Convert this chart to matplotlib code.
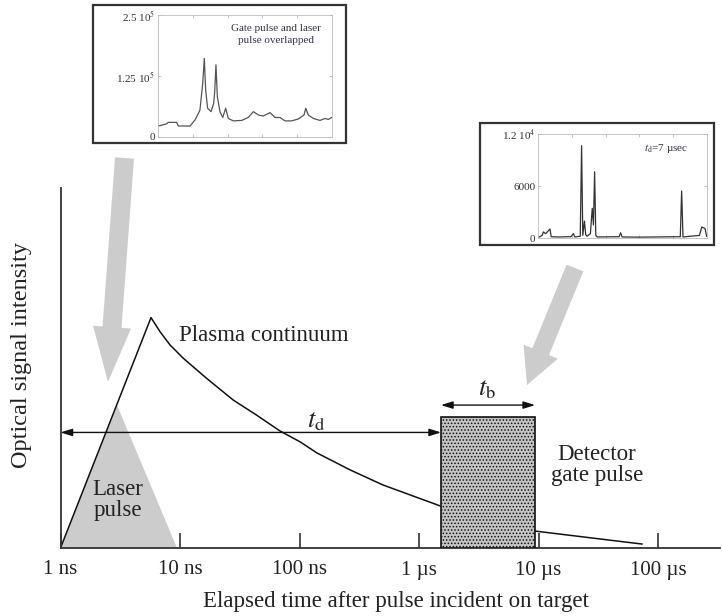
import matplotlib
matplotlib.use('Agg')
import matplotlib.pyplot as plt
from matplotlib.patches import Rectangle, Polygon, FancyArrow

plt.rcParams['font.family'] = ['Liberation Serif', 'DejaVu Serif']
plt.rcParams['mathtext.fontset'] = 'stix'
plt.rcParams['hatch.linewidth'] = 0.7

# ---- data (time in ns, intensity in arbitrary units 0..1) ----
plasma_t = [1, 5.72, 6.80, 8.25, 10.66, 16.73, 27.9, 43.8, 68.7, 101, 140, 265, 500, 1500, 9360, 73400]
plasma_i = [0, 0.640, 0.601, 0.564, 0.527, 0.471, 0.411, 0.369, 0.325, 0.295, 0.264, 0.217, 0.175, 0.117, 0.047, 0.011]

laser_t = [1, 2.97, 9.44]
laser_i = [0, 0.397, 0]

gate_start, gate_end, gate_height = 1528, 9360, 0.364

tick_pos = [1, 10, 100, 1e3, 1e4, 1e5]
tick_lbl = ['1 ns', '10 ns', '100 ns', '1 \u00b5s', '10 \u00b5s', '100 \u00b5s']

# inset 1: gate pulse and laser pulse overlapped
spec1_x = [0.2, 5.0, 5.9, 10.7, 11.7, 18.4, 21.3, 24.1, 25.7, 26.6, 27.4, 28.5, 30.5, 32.0, 32.6, 33.3,
           34.1, 35.6, 37.2, 38.9, 40.4, 43.3, 48.1, 51.9, 54.8, 57.7, 60.5, 64.4, 67.2, 70.1, 73.0,
           76.8, 80.7, 83.9, 84.9, 86.4, 89.3, 93.1, 96.0, 97.9, 99.8]
spec1_y = [0.225, 0.27, 0.30, 0.30, 0.225, 0.225, 0.35, 0.55, 1.10, 1.61, 0.96, 0.59, 0.52, 0.69, 0.93, 1.48,
           0.83, 0.52, 0.40, 0.59, 0.38, 0.33, 0.34, 0.40, 0.52, 0.45, 0.43, 0.50, 0.40, 0.40, 0.33,
           0.33, 0.37, 0.45, 0.59, 0.45, 0.38, 0.34, 0.38, 0.36, 0.40]
spec1_y = [v * 1e5 for v in spec1_y]

# inset 2: td = 7 usec
spec2_x = [0.5, 2.5, 3.2, 4.5, 6.0, 7.1, 7.8, 12, 19.5, 20.9, 21.8, 25.0, 25.8, 26.5, 27.5, 28.2, 29.0,
           31.0, 32.1, 32.8, 33.5, 34.2, 35, 48.0, 48.9, 49.8, 60, 84.2, 85.0, 85.8, 95.5, 96.9, 98.8, 99.8]
spec2_y = [100, 300, 700, 500, 800, 1040, 150, 120, 150, 500, 120, 200, 10650, 300, 1960, 400, 200,
           500, 3430, 1500, 7650, 300, 120, 150, 600, 120, 100, 150, 5420, 120, 300, 1270, 1100, 200]

fig = plt.figure(figsize=(7.22, 6.16), dpi=100)
W, H = 722, 616

# ---- main axes ----
ax = fig.add_axes([60.5 / W, (H - 548) / H, 659.5 / W, 360 / H])
ax.set_xscale('log')
ax.set_xlim(1, 10 ** (659.5 / 119.5))
ax.set_ylim(0, 1)
ax.set_facecolor('none')
for s in ['top', 'right']:
    ax.spines[s].set_visible(False)
for s in ['left', 'bottom']:
    ax.spines[s].set_color('#333333')
    ax.spines[s].set_linewidth(1.3)
ax.set_yticks([])
ax.set_xticks(tick_pos)
ax.set_xticklabels(tick_lbl)
ax.xaxis.set_minor_locator(matplotlib.ticker.NullLocator())
ax.tick_params(axis='x', direction='in', length=11, width=1.2, color='#333333',
               labelsize=15, pad=9, labelcolor='#222222')

ax.add_patch(Polygon(list(zip(laser_t, laser_i)), closed=True, facecolor='#cccccc',
                     edgecolor='none', zorder=1))
ax.plot(plasma_t, plasma_i, color='#111111', lw=1.1, zorder=2)
ax.add_patch(Rectangle((gate_start, 0), gate_end - gate_start, gate_height,
                       facecolor='#c4c4c4', edgecolor='#111111', hatch='.....',
                       lw=1.2, zorder=3))

# td and tb arrows
ax.annotate('', xy=(gate_start, 0.321), xytext=(1, 0.321),
            arrowprops=dict(arrowstyle='<|-|>,head_length=0.7,head_width=0.22',
                            color='#111111', lw=1.0, shrinkA=0, shrinkB=0))
ax.annotate('', xy=(gate_end, 0.397), xytext=(gate_start, 0.397),
            arrowprops=dict(arrowstyle='<|-|>,head_length=0.7,head_width=0.22',
                            color='#111111', lw=1.0, shrinkA=0, shrinkB=0))
ax.text(137, 0.35, r'$t_\mathrm{d}$', fontsize=19, ha='center', va='center', color='#222222')
ax.text(3706, 0.439, r'$t_\mathrm{b}$', fontsize=19, ha='center', va='center', color='#222222')

ax.text(9.81, 0.589, 'Plasma continuum', fontsize=16.5, ha='left', va='center', color='#222222')
ax.text(3.03, 0.133, 'Laser\npulse', fontsize=16.5, ha='center', va='center',
        color='#222222', linespacing=1.0, zorder=4)
ax.text(30900, 0.231, 'Detector\ngate pulse', fontsize=16.5, ha='center', va='center',
        color='#222222', linespacing=1.0)

fig.text(396 / W, 1 - 601 / H, 'Elapsed time after pulse incident on target',
         fontsize=16.5, ha='center', va='center', color='#222222')
fig.text(22 / W, 1 - 355 / H, 'Optical signal intensity', fontsize=17.5,
         rotation=90, ha='center', va='center', color='#222222')

# ---- overlay in pixel coordinates: grey arrows and inset frames ----
ov = fig.add_axes([0, 0, 1, 1])
ov.set_xlim(0, W)
ov.set_ylim(H, 0)
ov.axis('off')
ov.set_facecolor('none')

ov.add_patch(FancyArrow(124.5, 158, 108 - 124.5, 382 - 158, width=19, head_width=38,
                        head_length=55, length_includes_head=True,
                        facecolor='#cccccc', edgecolor='none'))
ov.add_patch(FancyArrow(575, 268, 527 - 575, 385 - 268, width=18, head_width=37,
                        head_length=36, length_includes_head=True,
                        facecolor='#cccccc', edgecolor='none'))

ov.add_patch(Rectangle((93, 5), 253, 138, facecolor='white', edgecolor='#333333', lw=1.6))
ov.add_patch(Rectangle((480, 123), 234, 122, facecolor='white', edgecolor='#333333', lw=1.6))

# ---- inset 1 ----
a1 = fig.add_axes([158 / W, (H - 137) / H, 174 / W, 122 / H])
a1.plot(spec1_x, spec1_y, color='#555555', lw=0.9)
a1.set_xlim(0, 100)
a1.set_ylim(0, 2.5e5)
a1.set_yticks([0, 1.25e5, 2.5e5])
a1.set_yticklabels(['0', r'1.25 10$^5$', r'2.5 10$^5$'])
a1.set_xticks([20, 40, 60, 80])
a1.set_xticklabels([])
a1.tick_params(direction='in', length=2, width=0.5, color='#aaaaaa', labelsize=8,
               pad=2, top=True, right=True, labelcolor='#333333')
for s in a1.spines.values():
    s.set_color('#bbbbbb')
    s.set_linewidth(0.6)
a1.text(0.68, 0.84, 'Gate pulse and laser\npulse overlapped', transform=a1.transAxes,
        fontsize=8, ha='center', va='center', color='#333344', linespacing=1.3)

# ---- inset 2 ----
a2 = fig.add_axes([538 / W, (H - 238) / H, 169 / W, 104 / H])
a2.plot(spec2_x, spec2_y, color='#333333', lw=0.9)
a2.set_xlim(0, 100)
a2.set_ylim(0, 1.2e4)
a2.set_yticks([0, 6000, 1.2e4])
a2.set_yticklabels(['0', '6000', r'1.2 10$^4$'])
a2.set_xticks([20, 40, 60, 80])
a2.set_xticklabels([])
a2.tick_params(direction='in', length=2, width=0.5, color='#aaaaaa', labelsize=8,
               pad=2, top=True, right=True, labelcolor='#333333')
for s in a2.spines.values():
    s.set_color('#bbbbbb')
    s.set_linewidth(0.6)
a2.text(0.76, 0.86, '$t_\\mathrm{d}$=7 \u00b5sec',
        transform=a2.transAxes, fontsize=8, ha='center', va='center', color='#333344')

fig.savefig('out.png', dpi=100, facecolor='white')
